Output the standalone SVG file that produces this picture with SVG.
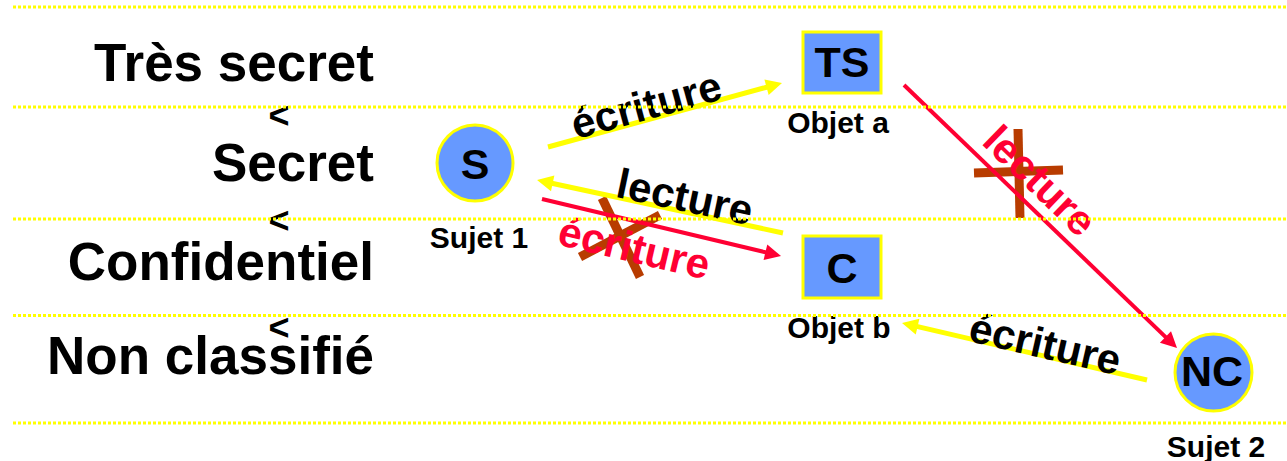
<svg xmlns="http://www.w3.org/2000/svg" width="1287" height="461" viewBox="0 0 1287 461">
<style>
.lvl{font-family:"Liberation Sans",Arial,sans-serif;font-weight:bold;font-size:53px;fill:#000;text-anchor:end}
.lt{font-family:"Liberation Sans",Arial,sans-serif;font-weight:bold;font-size:30px;fill:#000;text-anchor:middle}
.lt2{font-family:"Liberation Sans",Arial,sans-serif;font-weight:bold;font-size:36px;fill:#000;text-anchor:middle}
.nt{font-family:"Liberation Sans",Arial,sans-serif;font-weight:bold;font-size:43px;fill:#000;text-anchor:middle}
.cl{font-family:"Liberation Sans",Arial,sans-serif;font-weight:bold;font-size:42px;text-anchor:middle}
.node{fill:#6699FF;stroke:#FFFF00;stroke-width:3}
.ya{stroke:#FFFF00;stroke-width:5;fill:none}
.ra{stroke:#FF0033;stroke-width:4;fill:none}
.x{stroke:#B83C00;stroke-width:9;stroke-linecap:butt}
.dot{stroke:#FFFF00;stroke-width:3;stroke-dasharray:3 2}
</style>
<defs>
<marker id="ay" markerUnits="userSpaceOnUse" markerWidth="18" markerHeight="18" refX="1" refY="8" orient="auto" overflow="visible">
<path d="M0,0 L16,8 L0,16 z" fill="#FFFF00"/>
</marker>
<marker id="ar" markerUnits="userSpaceOnUse" markerWidth="18" markerHeight="18" refX="1" refY="8" orient="auto" overflow="visible">
<path d="M0,0 L16,8 L0,16 z" fill="#FF0033"/>
</marker>
</defs>
<rect width="1287" height="461" fill="#fff"/>
<g id="levels">
<text class="lvl" x="374" y="81">Très secret</text>
<text class="lvl" x="374" y="181">Secret</text>
<text class="lvl" x="374" y="280">Confidentiel</text>
<text class="lvl" x="374" y="374">Non classifié</text>
<text class="lt2" x="279" y="128">&lt;</text>
<text class="lt2" x="279" y="233">&lt;</text>
<text class="lt2" x="279" y="340">&lt;</text>
</g>
<g id="crosses">
<line class="x" x1="602" y1="198" x2="640" y2="277"/>
<line class="x" x1="580" y1="257" x2="660" y2="215"/>
<line class="x" x1="1018" y1="129" x2="1020" y2="218"/>
<line class="x" x1="974" y1="173" x2="1063" y2="170"/>
</g>
<g id="connectors">
<line class="ya" x1="548" y1="147" x2="767.5" y2="87" marker-end="url(#ay)"/>
<line class="ya" x1="783" y1="233" x2="551.7" y2="183.2" marker-end="url(#ay)"/>
<line class="ra" x1="542" y1="199" x2="766.4" y2="252.5" marker-end="url(#ar)"/>
<line class="ra" x1="904" y1="85" x2="1166.2" y2="337.6" marker-end="url(#ar)"/>
<line class="ya" x1="1147" y1="380" x2="916.6" y2="326.4" marker-end="url(#ay)"/>
<text class="cl" fill="#000" transform="translate(650,119) rotate(-15.3)">écriture</text>
<text class="cl" fill="#000" transform="translate(682,211) rotate(11.9)">lecture</text>
<text class="cl" fill="#FF0033" transform="translate(631,262) rotate(13.3)">écriture</text>
<text class="cl" fill="#FF0033" transform="translate(1030,191) rotate(44)">lecture</text>
<text class="cl" fill="#000" transform="translate(1042,358) rotate(12.9)">écriture</text>
</g>
<g id="sujet1">
<circle class="node" cx="475" cy="163" r="38"/>
<text class="nt" x="475" y="179">S</text>
<text class="lt" x="479" y="248">Sujet 1</text>
</g>
<g id="objetA">
<rect class="node" x="803" y="32" width="78" height="61"/>
<text class="nt" x="842" y="77">TS</text>
<text class="lt" x="838" y="133">Objet a</text>
</g>
<g id="objetB">
<rect class="node" x="803" y="236" width="78" height="62"/>
<text class="nt" x="842" y="283">C</text>
<text class="lt" x="839" y="338">Objet b</text>
</g>
<g id="sujet2">
<circle class="node" cx="1213.5" cy="372.5" r="38.5"/>
<text class="nt" x="1212" y="386">NC</text>
<text class="lt" x="1216" y="457">Sujet 2</text>
</g>
<g id="guides">
<line class="dot" x1="13" y1="7" x2="1287" y2="7"/>
<line class="dot" x1="13" y1="107" x2="1287" y2="107"/>
<line class="dot" x1="13" y1="219" x2="1287" y2="219"/>
<line class="dot" x1="13" y1="315.5" x2="1287" y2="315.5"/>
<line class="dot" x1="13" y1="423" x2="1287" y2="423"/>
</g>
</svg>
